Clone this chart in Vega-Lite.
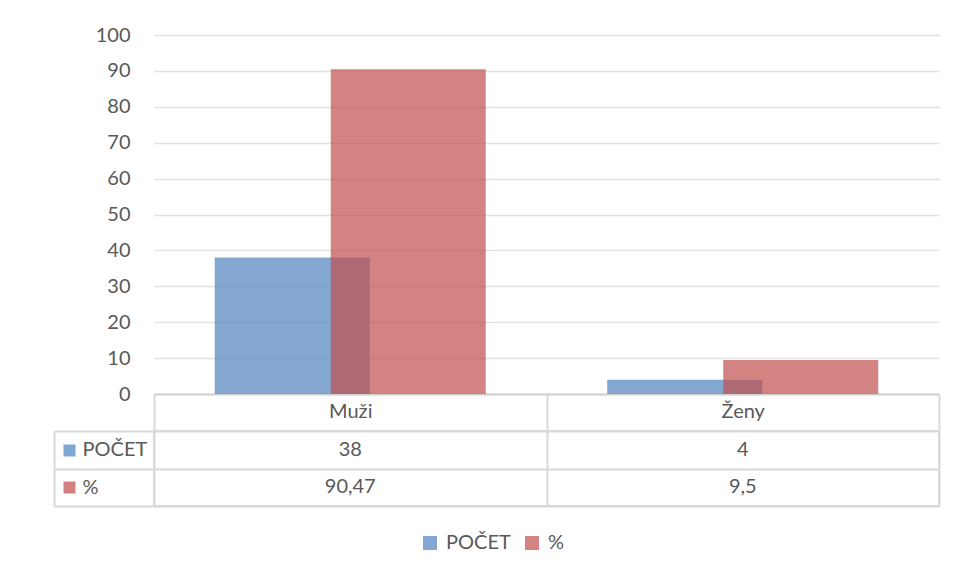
{
  "$schema": "https://vega.github.io/schema/vega-lite/v6.json",
  "autosize": {"type": "pad"},
  "padding": {"left": 52, "top": 25, "right": 17, "bottom": 10},
  "background": "white",
  "bounds": "flush",
  "spacing": 37,
  "data": {
    "values": [
      {"pohlavi": "Muži", "ukazatel": "POČET", "hodnota": 38},
      {"pohlavi": "Muži", "ukazatel": "%", "hodnota": 90.47},
      {"pohlavi": "Ženy", "ukazatel": "POČET", "hodnota": 4},
      {"pohlavi": "Ženy", "ukazatel": "%", "hodnota": 9.5}
    ]
  },
  "config": {
    "font": "Lato",
    "locale": {"number": {"decimal": ",", "thousands": " ", "grouping": [3], "currency": ["", " Kč"]}},
    "view": {"stroke": "#d9d9d9", "strokeWidth": 2},
    "axis": {"labelFont": "Lato", "labelFontSize": 20, "labelColor": "#595959", "title": null}
  },
  "vconcat": [
    {
      "width": 785,
      "height": 359,
      "view": {"stroke": null},
      "encoding": {
        "x": {
          "field": "pohlavi", "type": "nominal", "sort": ["Muži", "Ženy"],
          "scale": {"paddingInner": 0, "paddingOuter": 0},
          "axis": {"title": null, "labelAngle": 0, "domainColor": "#d0d0d0", "domainWidth": 2,
                   "tickBand": "extent", "tickSize": 37, "tickColor": "#d9d9d9", "tickWidth": 2,
                   "labelPadding": -20, "labelBaseline": "middle", "grid": false}
        },
        "y": {
          "field": "hodnota", "type": "quantitative",
          "scale": {"domain": [0, 100], "nice": false},
          "axis": {"values": [0, 10, 20, 30, 40, 50, 60, 70, 80, 90, 100], "domain": false, "ticks": false,
                   "labelPadding": 24, "gridColor": "#e3e3e3", "gridWidth": 1.5, "title": null}
        },
        "color": {
          "field": "ukazatel", "type": "nominal",
          "scale": {"domain": ["POČET", "%"], "range": ["#4F81BD", "#C0504D"]},
          "legend": {"orient": "none", "legendX": 266, "legendY": 498, "direction": "horizontal", "title": null,
                     "symbolType": "square", "symbolSize": 196, "symbolOpacity": 0.7, "symbolStrokeWidth": 0,
                     "labelFontSize": 20, "labelColor": "#595959", "labelFont": "Lato", "labelOffset": 6,
                     "columnPadding": 11}
        }
      },
      "layer": [
        {"transform": [{"filter": "datum.ukazatel === 'POČET'"}],
         "mark": {"type": "bar", "width": 155, "xOffset": -58, "opacity": 0.7}},
        {"transform": [{"filter": "datum.ukazatel === '%'"}],
         "mark": {"type": "bar", "width": 155, "xOffset": 58, "opacity": 0.7}}
      ]
    },
    {
      "width": 785,
      "height": 75,
      "layer": [
        {
          "mark": {"type": "text", "fontSize": 20, "font": "Lato", "color": "#595959"},
          "encoding": {
            "x": {
              "field": "pohlavi", "type": "nominal", "sort": ["Muži", "Ženy"],
              "scale": {"paddingInner": 0, "paddingOuter": 0},
              "axis": {"labels": false, "ticks": false, "domain": false, "grid": true, "tickBand": "extent",
                       "gridColor": "#d9d9d9", "gridWidth": 2, "title": null}
            },
            "y": {
              "field": "ukazatel", "type": "nominal",
              "scale": {"domain": ["POČET", "%"], "paddingInner": 0, "paddingOuter": 0},
              "axis": {"orient": "left", "offset": 0, "domain": false, "ticks": true, "tickBand": "extent",
                       "tickSize": 100, "tickColor": "#d9d9d9", "tickWidth": 2, "grid": true,
                       "gridColor": "#d9d9d9", "gridWidth": 2, "labelAlign": "left", "labelPadding": -28,
                       "title": null}
            },
            "text": {"field": "hodnota", "type": "quantitative", "format": ".4~g"}
          }
        },
        {
          "mark": {"type": "text", "opacity": 0},
          "encoding": {
            "y": {
              "field": "ukazatel", "type": "nominal",
              "scale": {"domain": ["POČET", "%"], "paddingInner": 0, "paddingOuter": 0},
              "axis": {"orient": "left", "offset": 79, "domain": false, "labels": false, "grid": false,
                       "ticks": true, "tickSize": 12, "tickWidth": 12, "tickCap": "butt",
                       "tickColor": {"condition": {"test": "datum.value === 'POČET'", "value": "#7FA7D1"}, "value": "#D48080"},
                       "title": null}
            },
            "text": {"value": ""}
          }
        },
        {
          "mark": {"type": "text", "opacity": 0},
          "encoding": {
            "y": {
              "field": "ukazatel", "type": "nominal",
              "scale": {"domain": ["POČET", "%"], "paddingInner": 0, "paddingOuter": 0},
              "axis": {"orient": "left", "offset": 100, "domain": true, "domainColor": "#d9d9d9", "domainWidth": 2,
                       "labels": false, "ticks": false, "grid": false, "title": null}
            },
            "text": {"value": ""}
          }
        }
      ],
      "resolve": {"scale": {"y": "independent"}, "axis": {"y": "independent"}}
    }
  ]
}
